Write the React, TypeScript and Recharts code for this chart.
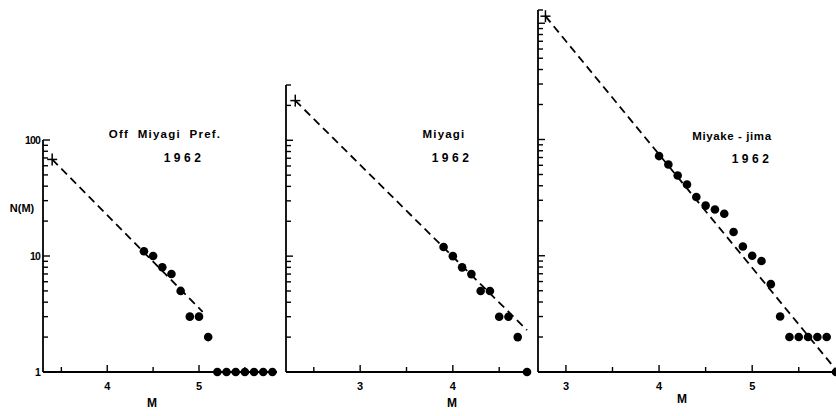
import React from 'react';
import {
  ScatterChart, Scatter, XAxis, YAxis, ReferenceLine,
} from 'recharts';

// Off Miyagi Pref. 1962
const offM = [4.4, 4.5, 4.6, 4.7, 4.8, 4.9, 5.0, 5.1, 5.2, 5.3, 5.4, 5.5, 5.6, 5.7, 5.8];
const offN = [11, 10, 8, 7, 5, 3, 3, 2, 1, 1, 1, 1, 1, 1, 1];
const offStart = { m: 3.4, n: 68 };
const offEnd = { m: 5.04, n: 3.3 };

// Miyagi 1962
const miyM = [3.9, 4.0, 4.1, 4.2, 4.3, 4.4, 4.5, 4.6, 4.7, 4.8];
const miyN = [12, 10, 8, 7, 5, 5, 3, 3, 2, 1];
const miyStart = { m: 2.3, n: 220 };
const miyEnd = { m: 4.8, n: 2.3 };

// Miyake-jima 1962
const mjM = [4.0, 4.1, 4.2, 4.3, 4.4, 4.5, 4.6, 4.7, 4.8, 4.9, 5.0, 5.1, 5.2, 5.3, 5.4, 5.5, 5.6, 5.7, 5.8, 5.9];
const mjN = [72, 61, 49, 41, 32, 27, 25, 23, 16, 12, 10, 9, 5.7, 3, 2, 2, 2, 2, 2, 1];
const mjStart = { m: 2.78, n: 1150 };
const mjEnd = { m: 5.92, n: 1 };

const logTicks = (max: number) => {
  const out: number[] = [];
  for (let d = 1; d <= max; d *= 10) {
    for (let k = 1; k < 10; k++) if (k * d <= max) out.push(k * d);
  }
  if (!out.includes(max) && max % 10 === 0) out.push(max);
  return out;
};

const font = '"Liberation Sans", Arial, sans-serif';
const W = 836;
const H = 416;
const BOTTOM = 372;

const toPts = (ms: number[], ns: number[]) => ms.map((m, i) => ({ m, n: ns[i] }));

function YTick(props: any) {
  const { x, y, payload, showLabel } = props;
  const v = payload.value;
  const major = Math.abs(Math.log10(v) % 1) < 1e-9;
  return (
    <g>
      <line x1={x} x2={x + (major ? 7 : 5)} y1={y} y2={y} stroke="#000" strokeWidth={1.4} />
      {showLabel && major && (
        <text x={x - 3} y={y} dy={4} textAnchor="end" fontSize={10.5} fontWeight="bold"
          fontFamily={font} fill="#000" letterSpacing={-0.8}>{v}</text>
      )}
    </g>
  );
}

function XTick(props: any) {
  const { x, y, payload } = props;
  const v = payload.value;
  const major = v % 1 === 0;
  return (
    <g>
      <line x1={x} x2={x} y1={y} y2={y - (major ? 7 : 5)} stroke="#000" strokeWidth={1.4} />
      {major && (
        <text x={x} y={y + 18} textAnchor="middle" fontSize={11} fontWeight="bold"
          fontFamily={font} fill="#000">{v}</text>
      )}
    </g>
  );
}

const Dot = (p: any) => <circle cx={p.cx} cy={p.cy} r={4.3} fill="#000" />;
const Cross = (p: any) => (
  <g stroke="#000" strokeWidth={1.5}>
    <line x1={p.cx - 5} x2={p.cx + 5} y1={p.cy} y2={p.cy} />
    <line x1={p.cx} x2={p.cx} y1={p.cy - 6} y2={p.cy + 6} />
  </g>
);

interface PanelProps {
  left: number;
  right: number;
  top: number;
  xDomain: [number, number];
  yMax: number;
  xTicks: number[];
  pts: { m: number; n: number }[];
  start: { m: number; n: number };
  end: { m: number; n: number };
  labels?: boolean;
}

function Panel({ left, right, top, xDomain, yMax, xTicks, pts, start, end, labels }: PanelProps) {
  // axis width/height of 1px, margins reduced to keep the plot box where it should be
  return (
    <div style={{ position: 'absolute', left: 0, top: 0 }}>
      <ScatterChart width={W} height={H}
        margin={{ top, left: left - 1, right: W - right, bottom: H - BOTTOM - 1 }}>
        <XAxis type="number" dataKey="m" domain={xDomain} ticks={xTicks} interval={0}
          height={1} tickSize={0} tickMargin={0}
          axisLine={{ stroke: '#000', strokeWidth: 1.8 }} tick={(p: any) => <XTick {...p} />} />
        <YAxis type="number" dataKey="n" scale="log" domain={[1, yMax]} ticks={logTicks(yMax)}
          interval={0} width={1} tickSize={0} tickMargin={0}
          axisLine={{ stroke: '#000', strokeWidth: 1.8 }}
          tick={(p: any) => <YTick {...p} showLabel={labels} />} />
        <ReferenceLine segment={[{ x: start.m, y: start.n }, { x: end.m, y: end.n }]}
          stroke="#000" strokeWidth={1.8} strokeDasharray="8 5" ifOverflow="visible" />
        <Scatter data={pts} shape={Dot} isAnimationActive={false} />
        <Scatter data={[start]} shape={Cross} isAnimationActive={false} />
      </ScatterChart>
    </div>
  );
}

function Label({ x, y, text, size = 11, spacing = 1 }: { x: number; y: number; text: string; size?: number; spacing?: number }) {
  return (
    <div style={{
      position: 'absolute', left: x, top: y, transform: 'translate(-50%, -50%)',
      fontFamily: font, fontWeight: 'bold', fontSize: size, letterSpacing: spacing,
      whiteSpace: 'pre', lineHeight: 1, color: '#000',
    }}>{text}</div>
  );
}

export default function App() {
  return (
    <div style={{ position: 'absolute', left: 0, top: 0, width: W, height: H, background: '#fff', overflow: 'hidden' }}>
      <Panel left={43} right={277} top={140} xDomain={[3.3, 5.85]} yMax={100}
        xTicks={[3.5, 4, 4.5, 5, 5.5]} pts={toPts(offM, offN)} start={offStart} end={offEnd} labels />
      <Panel left={286} right={527} top={85} xDomain={[2.2, 4.8]} yMax={300}
        xTicks={[2.5, 3, 3.5, 4, 4.5]} pts={toPts(miyM, miyN)} start={miyStart} end={miyEnd} />
      <Panel left={538} right={836} top={10} xDomain={[2.7, 5.9]} yMax={1300}
        xTicks={[3, 3.5, 4, 4.5, 5, 5.5]} pts={toPts(mjM, mjN)} start={mjStart} end={mjEnd} />

      <Label x={22} y={208} text="N(M)" size={11} spacing={0} />
      <Label x={165} y={135} text="Off  Miyagi  Pref." size={11.5} spacing={1.2} />
      <Label x={184} y={158} text="1962" size={12} spacing={3.5} />
      <Label x={152} y={403} text="M" size={12} spacing={0} />

      <Label x={444} y={135} text="Miyagi" size={11.5} spacing={1.2} />
      <Label x={452} y={158} text="1962" size={12} spacing={3.5} />
      <Label x={452} y={403} text="M" size={12} spacing={0} />

      <Label x={732} y={137} text="Miyake - jima" size={11.5} spacing={0.6} />
      <Label x={752} y={159} text="1962" size={12} spacing={3.5} />
      <Label x={682} y={399} text="M" size={12} spacing={0} />
    </div>
  );
}
